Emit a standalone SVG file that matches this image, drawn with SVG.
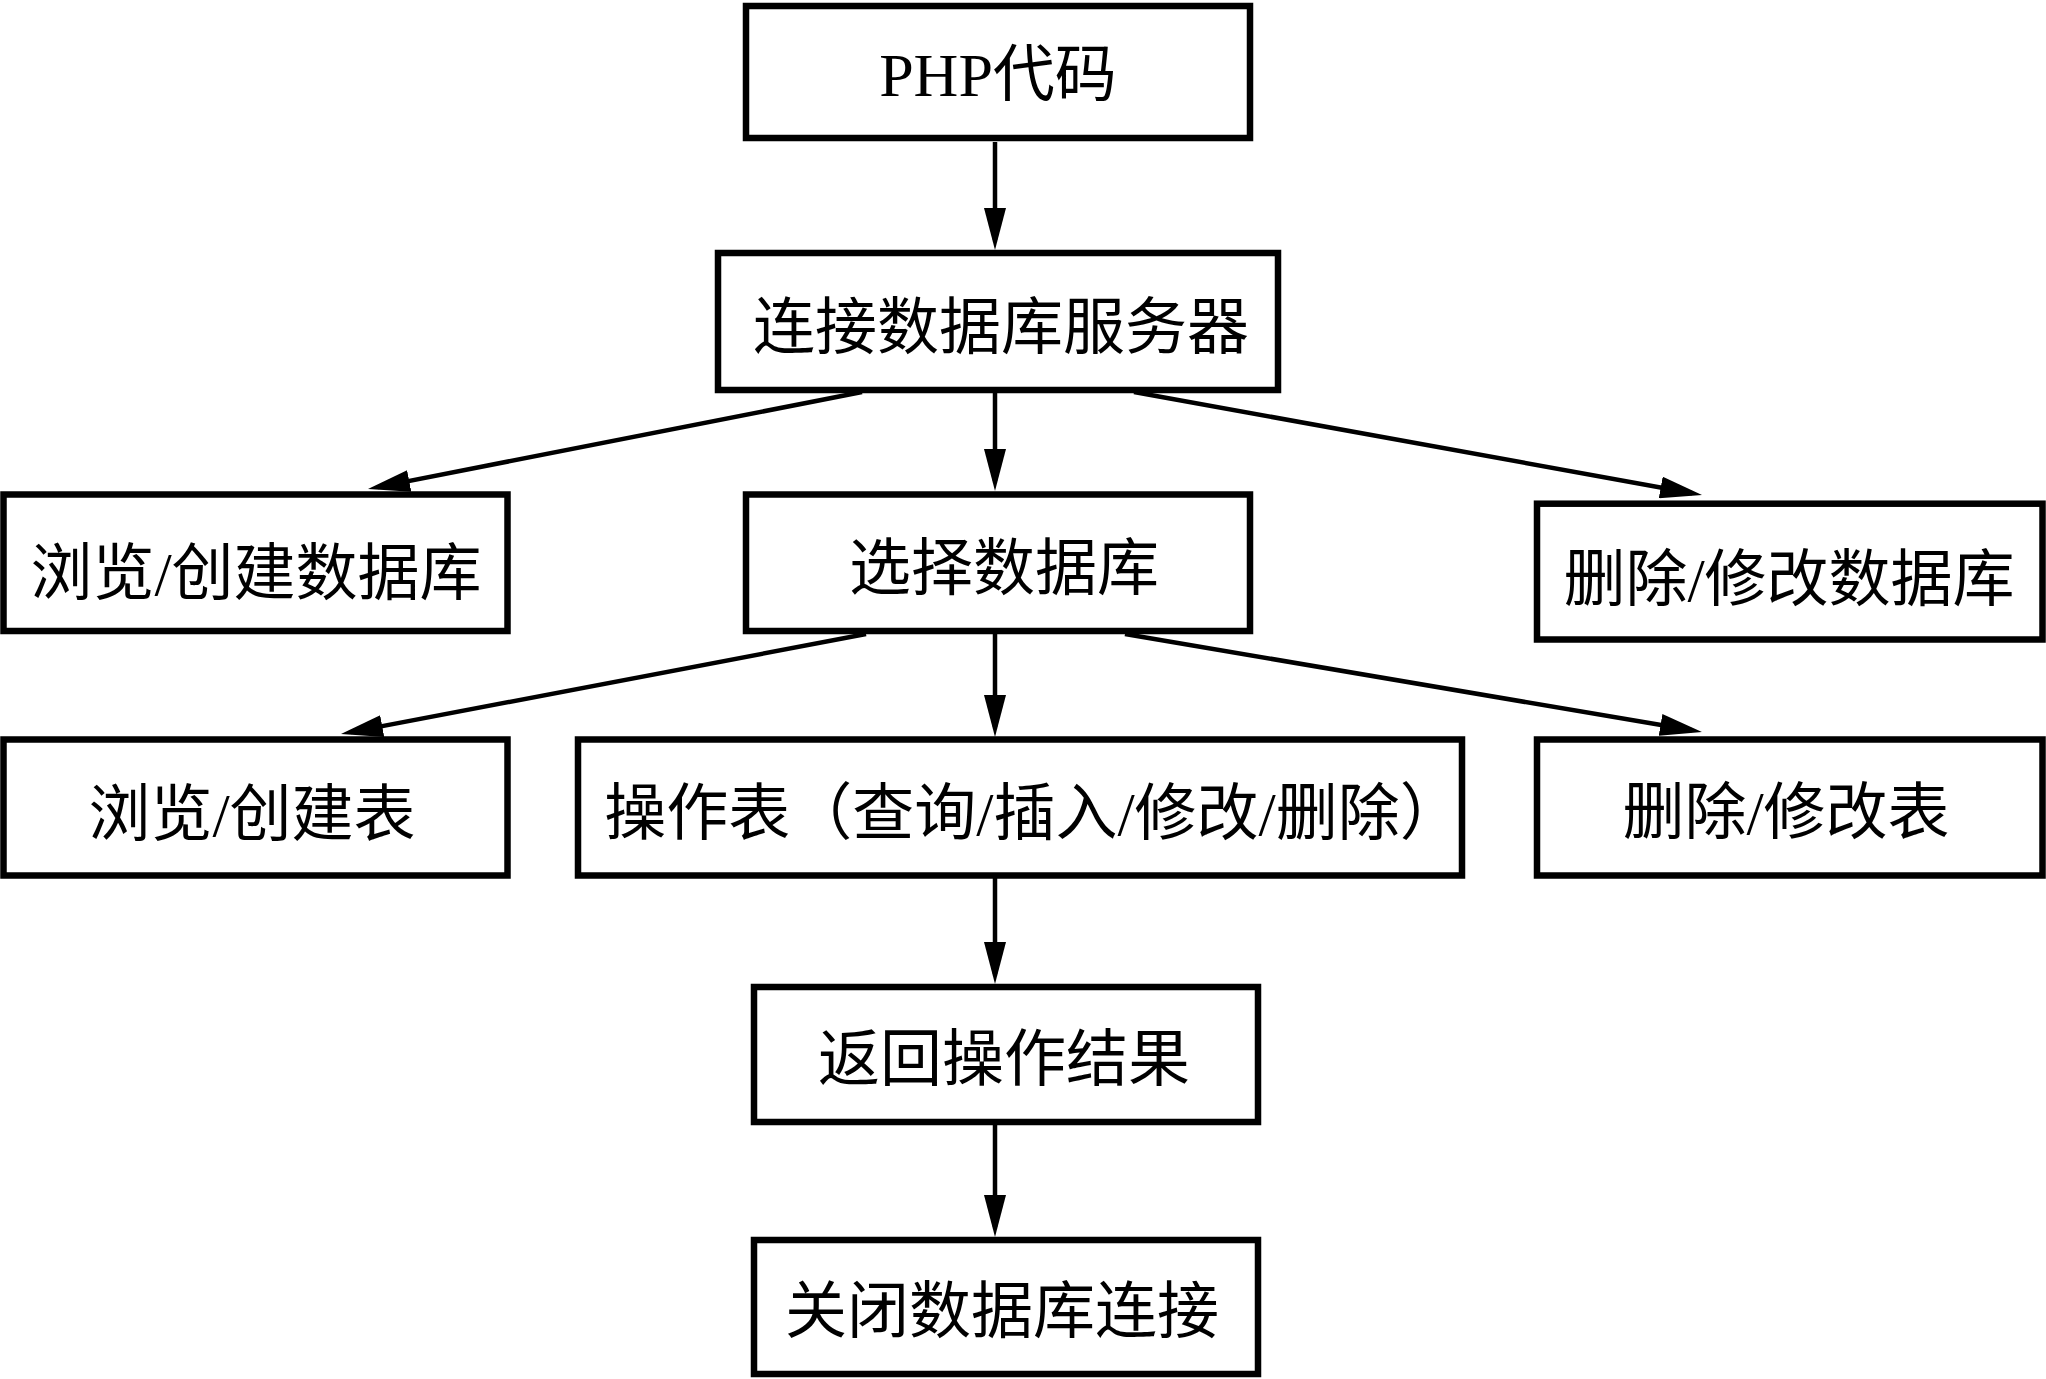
<svg xmlns="http://www.w3.org/2000/svg" width="2046" height="1379" viewBox="0 0 2046 1379">
<style>
.box{fill:#fff;stroke:#000;stroke-width:6.5}
.lbl{font-family:"Liberation Serif","Noto Sans CJK SC",serif;font-size:62px;fill:#000;text-anchor:middle}
.conn{stroke:#000;stroke-width:4.5;fill:none;marker-end:url(#ah)}
</style>
<defs>
<marker id="ah" markerUnits="userSpaceOnUse" markerWidth="42" markerHeight="22" refX="32" refY="11" orient="auto">
<path d="M0,0 L42,11 L0,22 Z" fill="#000"/>
</marker>
</defs>
<rect width="2046" height="1379" fill="#fff"/>
<g id="connectors">
<line class="conn" x1="995" y1="142" x2="995" y2="240"/>
<line class="conn" x1="995" y1="392" x2="995" y2="481"/>
<line class="conn" x1="862" y1="392" x2="377.8" y2="487.1"/>
<line class="conn" x1="1134" y1="392" x2="1692.2" y2="493.2"/>
<line class="conn" x1="866" y1="634" x2="350.8" y2="732.1"/>
<line class="conn" x1="995" y1="634" x2="995" y2="727"/>
<line class="conn" x1="1125" y1="634" x2="1692.1" y2="730.3"/>
<line class="conn" x1="995" y1="878" x2="995" y2="974"/>
<line class="conn" x1="995" y1="1125" x2="995" y2="1227"/>
</g>
<g id="n1"><rect class="box" x="746" y="6" width="504" height="132"/><text class="lbl" x="998" y="96">PHP代码</text></g>
<g id="n2"><rect class="box" x="718" y="253" width="560" height="137"/><text class="lbl" x="1001" y="349">连接数据库服务器</text></g>
<g id="n3"><rect class="box" x="3.5" y="494.5" width="504" height="136.5"/><text class="lbl" x="256" y="595">浏览/创建数据库</text></g>
<g id="n4"><rect class="box" x="746" y="494.5" width="504" height="136.5"/><text class="lbl" x="1004" y="590">选择数据库</text></g>
<g id="n5"><rect class="box" x="1537" y="503.7" width="505.5" height="135.8"/><text class="lbl" x="1789" y="601">删除/修改数据库</text></g>
<g id="n6"><rect class="box" x="3.5" y="739.5" width="504" height="136"/><text class="lbl" x="252" y="836">浏览/创建表</text></g>
<g id="n7"><rect class="box" x="578" y="739.5" width="884" height="136"/><text class="lbl" x="1033" y="835">操作表（查询/插入/修改/删除）</text></g>
<g id="n8"><rect class="box" x="1537" y="739.5" width="505.5" height="136"/><text class="lbl" x="1786" y="834">删除/修改表</text></g>
<g id="n9"><rect class="box" x="754" y="987" width="504" height="135"/><text class="lbl" x="1004" y="1081">返回操作结果</text></g>
<g id="n10"><rect class="box" x="754" y="1240" width="504" height="134"/><text class="lbl" x="1002" y="1333">关闭数据库连接</text></g>
</svg>
